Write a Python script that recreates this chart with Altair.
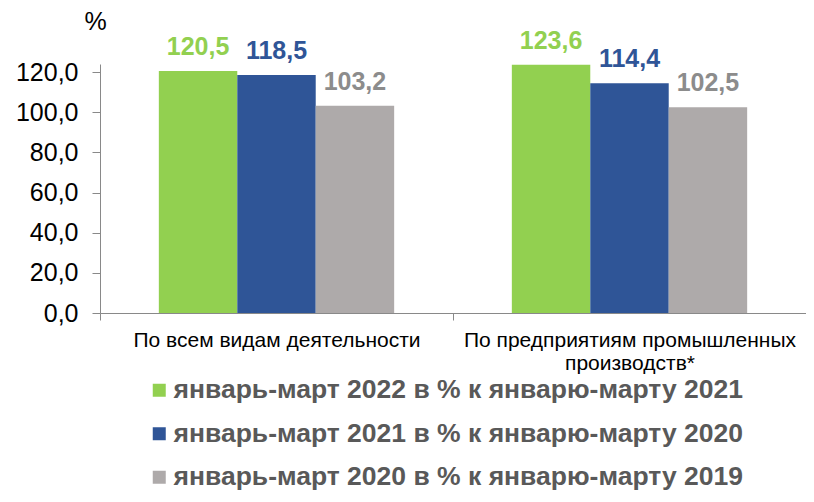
import altair as alt
import pandas as pd

categories = ["По всем видам деятельности", "По предприятиям промышленных|производств*"]
series = [
    "январь-март 2022 в % к январю-марту 2021",
    "январь-март 2021 в % к январю-марту 2020",
    "январь-март 2020 в % к январю-марту 2019",
]
values = {
    series[0]: [120.5, 123.6],
    series[1]: [118.5, 114.4],
    series[2]: [103.2, 102.5],
}
bar_colors = ["#92D050", "#2F5597", "#AEAAAA"]
label_colors = ["#92D050", "#2F5597", "#8C8C8C"]
y_ticks = [0, 20, 40, 60, 80, 100, 120]

rows = []
for si, s in enumerate(series):
    for ci, c in enumerate(categories):
        v = values[s][ci]
        rows.append({"cat": c, "series": s, "value": v,
                     "label": f"{v:.1f}".replace(".", ","),
                     "lcolor": label_colors[si]})
df = pd.DataFrame(rows)

x = alt.X("cat:N", sort=categories,
          scale=alt.Scale(paddingInner=0, paddingOuter=0),
          axis=alt.Axis(title=None, labelAngle=0, labelFontSize=21, labelColor="#000000",
                        labelFont="Liberation Sans", tickBand="extent", tickSize=7,
                        labelPadding=9, domainColor="#898989", tickColor="#898989",
                        labelLimit=400,
                        labelExpr="split(datum.label, '|')", labelLineHeight=23))
xo = alt.XOffset("series:N", sort=series, scale=alt.Scale(paddingOuter=0.75, paddingInner=0))
yscale = alt.Scale(domain=[0, 124], nice=False)

bars = alt.Chart(df).mark_bar().encode(
    x=x, xOffset=xo,
    y=alt.Y("value:Q", scale=yscale,
            axis=alt.Axis(values=y_ticks, grid=False, title="%", titleAngle=0,
                          titleFontSize=25, titleFontWeight="normal", titleColor="#000000",
                          titleFont="Liberation Sans", titleX=-5, titleY=-43,
                          titleBaseline="middle", titleAlign="center",
                          labelFontSize=25, labelColor="#000000", labelFont="Liberation Sans",
                          tickSize=8, labelPadding=14, domainColor="#898989",
                          tickColor="#898989",
                          labelExpr="replace(format(datum.value, '.1f'), '.', ',')")),
    color=alt.Color("series:N", sort=series,
                    scale=alt.Scale(domain=series, range=bar_colors),
                    legend=alt.Legend(title=None, orient="none", legendX=46, legendY=313,
                                      direction="vertical", symbolType="square",
                                      symbolSize=169, symbolStrokeWidth=0,
                                      labelFontSize=26.5, labelFontWeight="bold",
                                      labelColor="#595959", labelFont="Liberation Sans",
                                      rowPadding=16.5, labelOffset=1, labelLimit=800)),
)

texts = alt.Chart(df).mark_text(baseline="alphabetic", dy=-16, fontSize=25, fontWeight="bold",
                                font="Liberation Sans").encode(
    x=x, xOffset=xo, y=alt.Y("value:Q", scale=yscale),
    text="label:N",
    color=alt.Color("lcolor:N", scale=None),
)

chart = alt.layer(bars, texts).properties(
    width=706, height=249,
    autosize=alt.AutoSizeParams(type="none"),
    padding={"left": 92, "top": 56, "right": 0, "bottom": 181},
).configure_view(stroke=None)

chart.save("out.html", embed_options={"renderer": "svg", "actions": False})
